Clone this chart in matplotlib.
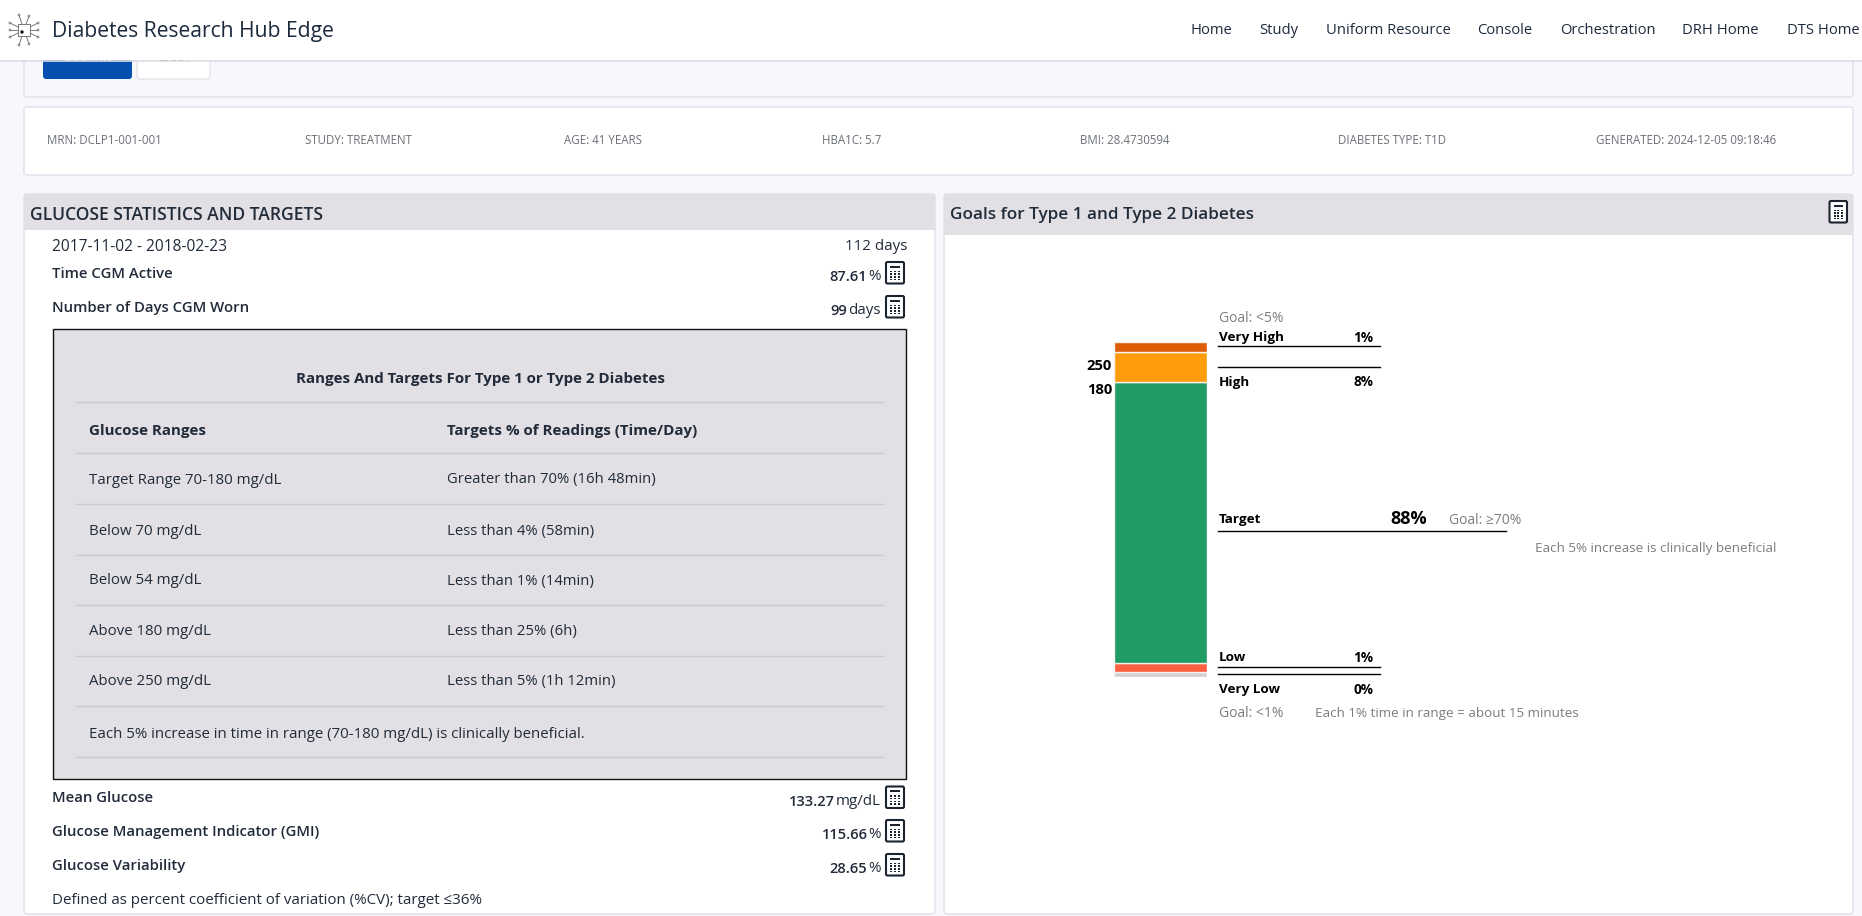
import matplotlib
matplotlib.use('Agg')
import matplotlib.pyplot as plt
from matplotlib.patches import FancyBboxPatch, Rectangle, Circle

plt.rcParams['font.family'] = ['Open Sans', 'DejaVu Sans']

WIDTH, HEIGHT = 1862, 916
DARK = '#212b3a'
GREY = '#7d7d7d'

nav_items = ['Home', 'Study', 'Uniform Resource', 'Console', 'Orchestration', 'DRH Home', 'DTS Home']
nav_x = [1191, 1259, 1326, 1477, 1560, 1682, 1787]

meta_items = ['MRN: DCLP1-001-001', 'STUDY: TREATMENT', 'AGE: 41 YEARS', 'HBA1C: 5.7',
              'BMI: 28.4730594', 'DIABETES TYPE: T1D', 'GENERATED: 2024-12-05 09:18:46']
meta_x = [47, 305, 564, 822, 1080, 1338, 1596]

table_rows = [
    ('Target Range 70-180 mg/dL', 'Greater than 70% (16h 48min)'),
    ('Below 70 mg/dL', 'Less than 4% (58min)'),
    ('Below 54 mg/dL', 'Less than 1% (14min)'),
    ('Above 180 mg/dL', 'Less than 25% (6h)'),
    ('Above 250 mg/dL', 'Less than 5% (1h 12min)'),
]
table_row_y = [478.5, 530, 579.5, 630, 680]
table_line_y = [401.5, 452.5, 503.5, 554.5, 604.5, 655.5, 705.5, 756.5]

top_stats = [('Time CGM Active', '87.61', '%', 272.5), ('Number of Days CGM Worn', '99', 'days', 306.5)]
bottom_stats = [('Mean Glucose', '133.27', 'mg/dL', 797), ('Glucose Management Indicator (GMI)', '115.66', '%', 830.5),
                ('Glucose Variability', '28.65', '%', 864.5)]

# stacked bar, shares are read off the drawn bar, not the printed percentages
bar_names = ['Very Low', 'Low', 'Target', 'High', 'Very High']
bar_shares = [1.5, 2.8, 83.7, 9.1, 2.9]
bar_colors = ['#d4cfd4', '#ff6040', '#1f9c63', '#ff9c0c', '#df5d06']
bar_pct = ['0%', '1%', '88%', '8%', '1%']
bar_ticks = [250, 180]


def px_text(ax, x, y, s, size=11, color=DARK, weight='normal', ha='left', **kw):
    return ax.text(x, y + 1.5, s, fontsize=size, color=color, fontweight=weight, ha=ha, va='center', **kw)


def card(ax, x0, y0, x1, y1, face='white', edge='#dfe0e8'):
    ax.add_patch(FancyBboxPatch((x0 + 3, y0 + 3), x1 - x0 - 6, y1 - y0 - 6, boxstyle='round,pad=3',
                                fc=face, ec=edge, lw=1.0))


def calc_icon(ax, x0, y0, x1, y1):
    """Small calculator glyph used beside the statistics."""
    w, h = x1 - x0, y1 - y0
    ax.add_patch(FancyBboxPatch((x0 + 1.5, y0 + 1.5), w - 3, h - 3, boxstyle='round,pad=1.5',
                                fc='white', ec='#1b2430', lw=1.5, zorder=5))
    ax.add_patch(Rectangle((x0 + w * 0.24, y0 + h * 0.17), w * 0.52, h * 0.1, fc='#1b2430', lw=0, zorder=6))
    for r in range(4):
        for c in range(3):
            ax.add_patch(Rectangle((x0 + w * (0.24 + 0.2 * c), y0 + h * (0.4 + 0.13 * r)), w * 0.12, h * 0.07,
                                   fc='#1b2430', lw=0, zorder=6))


def stat_row(ax, fig, name, value, unit, y):
    px_text(ax, 52, y, name, size=10.7, weight='semibold')
    unit_text = px_text(ax, 881, y + 3, unit, size=10.9, ha='right')
    left = unit_text.get_window_extent(fig.canvas.get_renderer()).x0
    px_text(ax, left - 1, y + 3, value, size=10.6, weight='semibold', ha='right')
    calc_icon(ax, 886, y - 10.5, 904, y + 11)


def draw_logo(ax):
    cx, cy = 24, 30
    leads = [(-14, -7), (-14, 0), (-14, 7), (14, -7), (14, 0), (14, 7), (-5, -15), (5, -14), (-5, 15), (5, 14)]
    for dx, dy in leads:
        ax.plot([cx + dx * 0.4, cx + dx], [cy + dy * 0.4, cy + dy], color='#666666', lw=0.6, zorder=12)
        ax.add_patch(Circle((cx + dx, cy + dy), 1.0, fc='white', ec='#666666', lw=0.5, zorder=12))
    ax.add_patch(Rectangle((cx - 6, cy - 6), 12, 12, fc='white', ec='#777777', lw=0.7, zorder=12))
    ax.add_patch(Circle((cx - 2, cy + 2), 1.7, fc='#111111', lw=0, zorder=13))


def main():
    fig = plt.figure(figsize=(WIDTH / 100, HEIGHT / 100), dpi=100, facecolor='#f7f7fc')
    ax = fig.add_axes([0, 0, 1, 1])
    ax.set_xlim(0, WIDTH)
    ax.set_ylim(HEIGHT, 0)
    ax.axis('off')

    # form card and its buttons, mostly hidden under the nav bar
    card(ax, 24, 30, 1853, 97, face='#f7f7fc')
    ax.add_patch(FancyBboxPatch((46, 40), 83, 36, boxstyle='round,pad=3', fc='#0550ae', ec='none'))
    ax.add_patch(FancyBboxPatch((140, 40), 67, 36, boxstyle='round,pad=3', fc='white', ec='#e3e3ea', lw=1))
    px_text(ax, 87.5, 56, 'Submit', size=10.6, color='white', ha='center')
    px_text(ax, 173.5, 56, 'Clear', size=10.6, color='#222222', ha='center')

    # nav bar
    ax.add_patch(Rectangle((0, 0), WIDTH, 60, fc='white', ec='none', zorder=10))
    ax.plot([0, WIDTH], [60.5, 60.5], color='#dcdde6', lw=1.2, zorder=11)
    draw_logo(ax)
    px_text(ax, 52, 30.5, 'Diabetes Research Hub Edge', size=15.2, color='#1b2a3c', zorder=12)
    for x, label in zip(nav_x, nav_items):
        px_text(ax, x, 29.5, label, size=10.6, color='#1b2a3c', zorder=12)

    # patient info
    card(ax, 24, 107, 1853, 175)
    for x, label in zip(meta_x, meta_items):
        px_text(ax, x, 138.5, label, size=8.3, color='#6b7077')

    # left panel
    card(ax, 24, 194, 935, 914)
    ax.add_patch(Rectangle((24, 194), 911, 36, fc='#e2e0e4', ec='none'))
    px_text(ax, 30, 213.5, 'GLUCOSE STATISTICS AND TARGETS', size=12.65, weight='semibold')
    px_text(ax, 52, 245.5, '2017-11-02 - 2018-02-23', size=11.2)
    px_text(ax, 907, 245.5, '112 days', size=10.9, ha='right')
    for name, value, unit, y in top_stats + bottom_stats:
        stat_row(ax, fig, name, value, unit, y)
    px_text(ax, 52, 899, 'Defined as percent coefficient of variation (%CV); target ≤36%', size=10.9)

    # targets table
    ax.add_patch(Rectangle((52.5, 329), 853.5, 450, fc='#e2e0e4', ec='#111111', lw=1.0))
    for y in table_line_y:
        ax.plot([76, 883], [y, y], color='#c9c9d2', lw=1)
    px_text(ax, 480, 377, 'Ranges And Targets For Type 1 or Type 2 Diabetes', size=10.9, weight='bold', ha='center')
    px_text(ax, 89, 429, 'Glucose Ranges', size=10.9, weight='bold')
    px_text(ax, 447, 429, 'Targets % of Readings (Time/Day)', size=10.9, weight='bold')
    for y, (left, right) in zip(table_row_y, table_rows):
        px_text(ax, 89, y, left, size=10.85)
        px_text(ax, 447, y, right, size=10.7)
    px_text(ax, 89, 732.5, 'Each 5% increase in time in range (70-180 mg/dL) is clinically beneficial.', size=10.8)

    # right panel
    card(ax, 944, 194, 1853, 914)
    ax.add_patch(Rectangle((944, 194), 909, 41, fc='#e2e0e4', ec='none'))
    px_text(ax, 950, 213.5, 'Goals for Type 1 and Type 2 Diabetes', size=12.3, weight='semibold')
    calc_icon(ax, 1829.5, 201, 1847, 222.5)

    # stacked bar on its own axes
    bar_ax = fig.add_axes([1114 / WIDTH, 1 - 677 / HEIGHT, 93 / WIDTH, 335 / HEIGHT])
    bar_ax.set_xlim(-0.5, 0.5)
    bar_ax.set_ylim(0, 100)
    bar_ax.axis('off')
    bottom = 0
    for share, color in zip(bar_shares, bar_colors):
        bar_ax.bar(0, share, width=1, bottom=bottom, color=color, edgecolor='#f4f0ee', linewidth=1)
        bottom += share

    px_text(ax, 1112, 364, str(bar_ticks[0]), size=10.6, color='black', weight='bold', ha='right')
    px_text(ax, 1112, 389, str(bar_ticks[1]), size=10.6, color='black', weight='bold', ha='right')

    for y in [346, 366.5, 666.5, 674]:
        ax.plot([1218, 1380], [y, y], color='black', lw=1.0)
    ax.plot([1218, 1506], [531, 531], color='black', lw=1.0)

    label_y = {'Very High': 336, 'High': 381, 'Low': 656, 'Very Low': 688}
    for name, pct in zip(bar_names, bar_pct):
        if name == 'Target':
            continue
        px_text(ax, 1219, label_y[name], name, size=9.7, color='black', weight='bold')
        px_text(ax, 1373, label_y[name], pct, size=9.8, color='black', weight='bold', ha='right')

    px_text(ax, 1219, 518, 'Target', size=9.7, color='black', weight='bold')
    px_text(ax, 1427, 518, bar_pct[2], size=13, color='black', weight='bold', ha='right')
    px_text(ax, 1449, 519, 'Goal: ≥70%', size=10, color=GREY)
    px_text(ax, 1535, 547, 'Each 5% increase is clinically beneficial', size=9.7, color=GREY)
    px_text(ax, 1219, 317, 'Goal: <5%', size=10, color=GREY)
    px_text(ax, 1219, 712, 'Goal: <1%', size=10, color=GREY)
    px_text(ax, 1315, 712, 'Each 1% time in range = about 15 minutes', size=9.7, color=GREY)

    fig.savefig('out.png', dpi=100, facecolor=fig.get_facecolor())
    plt.close(fig)


if __name__ == '__main__':
    main()
